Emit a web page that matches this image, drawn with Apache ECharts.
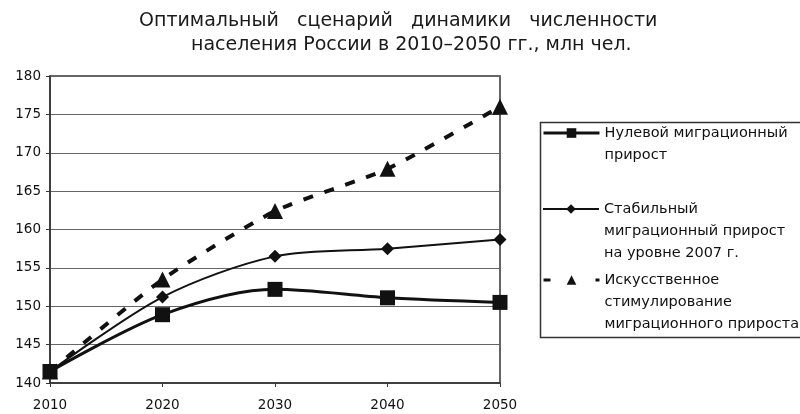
<!DOCTYPE html>
<html>
<head>
<meta charset="utf-8">
<script src="https://cdn.jsdelivr.net/npm/echarts@6/dist/echarts.min.js"></script>
<style>html,body{margin:0;padding:0;background:#fff}#c{width:800px;height:414px}</style>
</head>
<body>
<div id="c"></div>
<script>
const titleLines = ['Оптимальный   сценарий   динамики   численности', 'населения России в 2010–2050 гг., млн чел.'];
const years = ['2010', '2020', '2030', '2040', '2050'];
const seriesNames = [
  'Нулевой миграционный\nприрост',
  'Стабильный\nмиграционный прирост\nна уровне 2007 г.',
  'Искусственное\nстимулирование\nмиграционного прироста'
];
const zeroMigration = [141.5, 148.9, 152.2, 151.1, 150.5];
const stableMigration = [141.5, 151.2, 156.5, 157.5, 158.7];
const stimulatedMigration = [141.5, 153.5, 162.4, 167.9, 176.0];
const yTicks = { min: 140, max: 180, interval: 5 };

const FONT = 'DejaVu Sans';
const LH = 22;
const ink = '#111';

// icon sits on the first text line: pad the block with empty lines above
function legendFor(i, iconY, lineStyle) {
  const n = seriesNames[i].split('\n').length;
  return {
    data: [seriesNames[i]],
    formatter: name => '\n'.repeat(n - 1) + name,
    orient: 'vertical', left: 542, top: iconY - (2 * n - 1) * LH / 2, padding: 0,
    itemWidth: 56, itemHeight: 12, itemGap: 0,
    selectedMode: false,
    lineStyle: lineStyle,
    textStyle: { fontFamily: FONT, fontSize: 14.5, color: ink, lineHeight: LH }
  };
}

const chart = echarts.init(document.getElementById('c'), null, { renderer: 'canvas' });
chart.setOption({
  animation: false,
  backgroundColor: '#fff',
  title: [
    { text: titleLines[0], left: 139, top: 9, padding: 0,
      textStyle: { fontFamily: FONT, fontSize: 19, fontWeight: 'normal', color: '#1a1a1a', lineHeight: 24 } },
    { text: titleLines[1], left: 191, top: 33, padding: 0,
      textStyle: { fontFamily: FONT, fontSize: 19, fontWeight: 'normal', color: '#1a1a1a', lineHeight: 24 } }
  ],
  graphic: [{
    type: 'rect', left: 538, top: 120, z: 0,
    shape: { width: 290, height: 215 },
    style: { fill: 'none', stroke: '#333', lineWidth: 1.5 }
  }],
  legend: [
    legendFor(0, 133, { width: 3, color: ink }),
    legendFor(1, 209, { width: 2, color: ink }),
    legendFor(2, 280, { width: 3, color: ink, type: [7, 45, 5, 10] })
  ],
  grid: { left: 50, right: 300, top: 76, bottom: 31, show: true, borderColor: '#333', borderWidth: 1.5, containLabel: false },
  xAxis: {
    type: 'category', data: years, boundaryGap: false,
    axisLine: { lineStyle: { color: '#333', width: 1.5 } },
    axisTick: { show: true, length: 4, lineStyle: { color: '#333' } },
    axisLabel: { fontFamily: FONT, fontSize: 13.5, color: ink, margin: 15 },
    splitLine: { show: false }
  },
  yAxis: {
    type: 'value', min: yTicks.min, max: yTicks.max, interval: yTicks.interval,
    axisLine: { show: true, lineStyle: { color: '#333', width: 1.5 } },
    axisTick: { show: true, length: 4, lineStyle: { color: '#333' } },
    axisLabel: { fontFamily: FONT, fontSize: 13.5, color: ink, margin: 9 },
    splitLine: { show: true, lineStyle: { color: '#666', width: 1.2 } }
  },
  series: [
    {
      name: seriesNames[0], type: 'line', data: zeroMigration, smooth: 0.3,
      symbol: 'rect', symbolSize: 15, z: 3,
      lineStyle: { color: ink, width: 3 }, itemStyle: { color: ink }
    },
    {
      name: seriesNames[1], type: 'line', data: stableMigration, smooth: 0.3,
      symbol: 'diamond', symbolSize: 13, z: 2,
      lineStyle: { color: ink, width: 2 }, itemStyle: { color: ink }
    },
    {
      name: seriesNames[2], type: 'line', data: stimulatedMigration, smooth: 0.2,
      symbol: 'triangle', symbolSize: 16, z: 1,
      lineStyle: { color: ink, width: 4, type: [10, 12] }, itemStyle: { color: ink }
    }
  ]
});
</script>
</body>
</html>
